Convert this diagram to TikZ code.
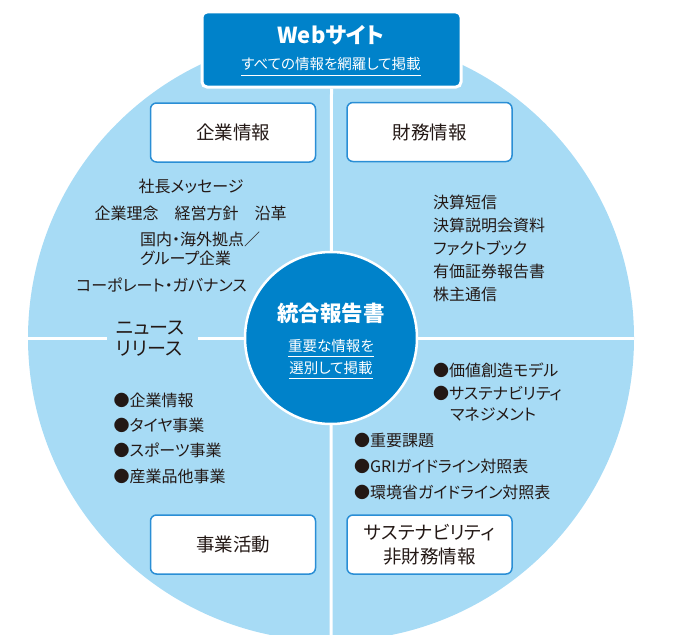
\documentclass[tikz,border=0pt]{standalone}
\usepackage{fontspec}
\setmainfont{Noto Sans CJK JP}[RawFeature=+palt]
\definecolor{lightb}{HTML}{A7DBF5}
\definecolor{darkb}{HTML}{0082CA}
\definecolor{boxb}{HTML}{2A8ED5}
\definecolor{ink}{HTML}{231815}
\newcommand{\fsz}[2]{\fontsize{#1}{#2}\selectfont}
\begin{document}
\begin{tikzpicture}[x=1pt,y=-1pt,
  divider/.style={draw=white, line width=3pt},
  infobox/.style={draw=boxb, line width=1.5pt, fill=white, rounded corners=6pt,
    minimum width=165pt, minimum height=59pt, inner sep=0pt,
    font=\fsz{18.5}{24}, text=ink, align=center},
  body/.style={inner sep=0pt, font=\fsz{16}{20}, text=ink},
  lft/.style={body, anchor=west},
  ultext/.style={inner sep=0pt, text=white, font=\fsz{14.5}{18}},
  ul/.style={draw=white, line width=0.9pt}]
\clip (0,0) rectangle (674,634);
% big circle
\node[circle, fill=lightb, minimum size=606pt, inner sep=0pt, outer sep=0pt] (big) at (331,338) {};
% web box
\node[draw=white, line width=3pt, fill=darkb, rounded corners=5pt,
  minimum width=259pt, minimum height=75pt, inner sep=0pt] (web) at (331.5,49.5) {};
\coordinate (gapL) at (107,338);
\coordinate (gapR) at (198,338);
\draw[divider] (web.south) -- (big.south);
\draw[divider] (big.west) -- (gapL);
\draw[divider] (gapR) -- (big.east);
\node[inner sep=0pt, text=white, font=\fsz{22}{26}\bfseries] (webt) at (331,35.5) {Webサイト};
\node[ultext] (webs) at (331,64) {すべての情報を網羅して掲載};
\draw[ul] ([yshift=-5.8pt]webs.base west) -- ([yshift=-5.8pt]webs.base east);
% center circle
\node[circle, fill=darkb, draw=white, line width=2.5pt, minimum size=172pt, inner sep=0pt] (core) at (331,338) {};
\node[inner sep=0pt, text=white, font=\fsz{21.5}{26}\bfseries] (coret) at (331,313) {統合報告書};
\node[ultext] (corea) at (331,346) {重要な情報を};
\draw[ul] ([yshift=-4.5pt]corea.base west) -- ([yshift=-4.5pt]corea.base east);
\node[ultext] (coreb) at (331,368) {選別して掲載};
\draw[ul] ([yshift=-4.5pt]coreb.base west) -- ([yshift=-4.5pt]coreb.base east);
% boxes
\node[infobox] (kigyo) at (233,132.5) {企業情報};
\node[infobox] (zaimu) at (429.5,132) {財務情報};
\node[infobox] (jigyo) at (233,544.5) {事業活動};
\node[infobox] (sus) at (429.5,544.5) {サステナビリティ\\非財務情報};
% upper left texts
\node[body] (a1) at (191,186) {社長メッセージ};
\node[body] (a2) at (190.5,213) {企業理念　経営方針　沿革};
\node[lft] (a3) at (140,239) {国内・海外拠点／};
\node[lft] (a4) at (140,258) {グループ企業};
\node[body] (a5) at (161.5,285) {コーポレート・ガバナンス};
% upper right texts
\node[lft] (b1) at (433,202) {決算短信};
\node[lft] (b2) at (433,225) {決算説明会資料};
\node[lft] (b3) at (433,248) {ファクトブック};
\node[lft] (b4) at (433,271) {有価証券報告書};
\node[lft] (b5) at (433,294) {株主通信};
% news release
\node[lft, font=\fsz{19}{22}] (n1) at (116,328) {ニュース};
\node[lft, font=\fsz{19}{22}] (n2) at (116,349) {リリース};
\node[lft] (c1) at (113.5,400) {●企業情報};
\node[lft] (c2) at (113.5,425) {●タイヤ事業};
\node[lft] (c3) at (113.5,450) {●スポーツ事業};
\node[lft] (c4) at (113.5,476) {●産業品他事業};
% lower right texts
\node[lft] (d1) at (433,370) {●価値創造モデル};
\node[lft] (d2) at (433,393) {●サステナビリティ};
\node[lft] (d3) at (450,414) {マネジメント};
\node[lft] (d4) at (354,440) {●重要課題};
\node[lft] (d5) at (354,466) {●GRIガイドライン対照表};
\node[lft] (d6) at (354,492) {●環境省ガイドライン対照表};
\end{tikzpicture}
\end{document}
